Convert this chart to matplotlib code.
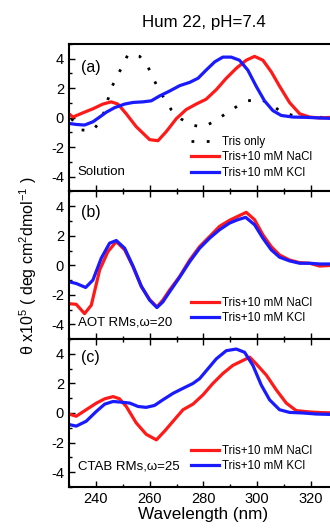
import numpy as np
import matplotlib.pyplot as plt
from matplotlib.ticker import MultipleLocator

plt.rcParams['font.family'] = ['Liberation Sans', 'DejaVu Sans']
plt.rcParams['axes.unicode_minus'] = False
plt.rcParams['mathtext.fontset'] = 'custom'
plt.rcParams['mathtext.rm'] = 'Liberation Sans'

# Panel (a): solution
wl_tris = [230.9, 234.6, 238.7, 241.4, 243.3, 245.7, 248.2, 250.0, 252.0, 256.3, 259.1,
           261.0, 263.1, 265.6, 268.0, 271.8, 275.7, 279.8, 284.2, 288.2, 292.5, 296.5,
           300.9, 305.2, 308.9, 313.3, 317.6, 321.9, 326.3]
cd_tris = [-0.07, -0.83, -0.9, -0.3, 0.48, 2.0, 2.9, 3.55, 4.3, 4.15, 3.55,
           2.8, 2.0, 1.25, 0.55, -0.1, -0.5, -0.64, -0.24, 0.26, 0.77, 1.14,
           1.25, 0.92, 0.37, 0.15, 0.09, 0.04, 0.0]

wl_a_na = [230, 231.5, 235.2, 238.9, 242.6, 245.7, 248.2, 251.3, 255, 260, 263.1, 266.2,
           269.9, 273.6, 277.3, 281, 284.8, 288.5, 292.2, 295.9, 299, 302.1, 305.2,
           308.3, 312, 315.8, 319.5, 323.2, 330]
cd_a_na = [0.26, 0.04, 0.33, 0.6, 0.92, 1.07, 0.92, 0.26, -0.61, -1.49, -1.56, -0.94,
           -0.07, 0.55, 0.92, 1.25, 1.9, 2.67, 3.34, 3.89, 4.15, 3.89, 3.11,
           2.13, 1.03, 0.26, 0.04, -0.02, 0.04]

wl_a_k = [230, 232.7, 235.8, 238.9, 241.4, 243.9, 247, 250.7, 253.8, 257.5, 260.6, 263.7,
          267.4, 271.2, 274.9, 278, 281, 284.2, 287.2, 290.3, 293.4, 296.5, 299.6,
          302.7, 305.8, 308.9, 313.3, 318.2, 323.2, 330]
cd_a_k = [-0.39, -0.46, -0.5, -0.28, 0.04, 0.37, 0.68, 0.92, 1.03, 1.07, 1.14, 1.47,
          1.8, 2.17, 2.39, 2.67, 3.22, 3.78, 4.1, 4.1, 3.89, 3.22, 2.13,
          1.14, 0.48, 0.15, 0.04, 0.02, -0.02, -0.07]

# Panel (b): AOT reverse micelles
wl_b_na = [230, 232.7, 235.8, 238.3, 241.4, 244.5, 247.6, 250.7, 253.8, 256.9, 260, 262.7,
           264.9, 267.4, 271.1, 274.9, 278.6, 282.3, 286, 289.7, 292.8, 295.9, 299,
           302.1, 305.2, 308.3, 312, 315.8, 319.5, 323.2, 330]
cd_b_na = [-2.6, -2.64, -3.27, -2.7, -0.32, 0.93, 1.61, 1.05, -0.09, -1.45, -2.32, -2.82,
           -2.36, -1.68, -0.77, 0.36, 1.27, 1.95, 2.64, 3.05, 3.32, 3.59, 3.09,
           2.07, 1.27, 0.7, 0.36, 0.18, 0.14, -0.05, 0.02]

wl_b_k = [230, 232.7, 236.2, 238.9, 242, 245.1, 247.6, 250.7, 253.8, 256.9, 260, 262.7,
          264.9, 267.4, 271.1, 274.9, 278.6, 282.3, 286, 289.7, 292.8, 295.7, 299,
          302.1, 305.2, 308.3, 312, 315.8, 319.5, 323.2, 330]
cd_b_k = [-1.11, -1.23, -1.5, -1.0, 0.48, 1.5, 1.68, 1.16, -0.05, -1.41, -2.36, -2.86,
          -2.48, -1.8, -0.82, 0.25, 1.16, 1.84, 2.41, 2.86, 3.09, 3.25, 2.75,
          1.84, 1.05, 0.55, 0.3, 0.14, 0.14, 0.09, 0.09]

# Panel (c): CTAB reverse micelles
wl_c_na = [230, 232.7, 236.4, 240.2, 243.3, 246.4, 248.8, 251.3, 255, 258.7, 262.5, 265.6,
           268.7, 272.4, 276.1, 279.8, 283.5, 287.2, 290.9, 294.7, 297.2, 299.6, 303.4,
           307.1, 310.8, 314.5, 319.5, 324.4, 330]
cd_c_na = [-0.07, -0.22, 0.22, 0.67, 0.96, 1.11, 0.96, 0.44, -0.67, -1.44, -1.82, -1.22,
           -0.56, 0.22, 0.6, 1.22, 2.0, 2.67, 3.22, 3.56, 3.78, 3.33, 2.56,
           1.56, 0.67, 0.16, 0.07, 0.02, 0.0]

wl_c_k = [230, 232.7, 236.4, 240.2, 243.3, 246.4, 249.5, 252.6, 255.7, 258.7, 261.8, 264.9,
          268.7, 272.4, 276.1, 278.6, 281.7, 284.8, 288.5, 292.2, 295.3, 298.4, 301.5,
          304.6, 308.3, 312, 317, 321.9, 330]
cd_c_k = [-0.78, -0.89, -0.56, 0.11, 0.6, 0.78, 0.73, 0.67, 0.44, 0.38, 0.51, 0.89,
          1.33, 1.67, 2.0, 2.33, 3.0, 3.67, 4.22, 4.33, 4.11, 3.22, 1.89,
          0.89, 0.22, 0.04, 0.0, -0.07, -0.11]

panel_tags = ['(a)', '(b)', '(c)']
panel_notes = ['Solution', 'AOT RMs,ω=20', 'CTAB RMs,ω=25']
tag_y = [0.84, 0.856, 0.875]
note_y = [0.135, 0.11, 0.135]
legend_y = [0.085, 0.1, 0.1]

fig = plt.figure(figsize=(3.3, 5.28), dpi=100)
left, right = 0.209, 1.024
bottom, top = 0.078, 0.917
h = (top - bottom) / 3
axes = [fig.add_axes([left, bottom + (2 - i) * h, right - left, h]) for i in range(3)]

axes[0].plot(wl_tris, cd_tris, ls=(0, (1, 4.5)), color='black', lw=2, label='Tris only')
axes[0].plot(wl_a_na, cd_a_na, color='#ff1a1a', lw=2.3, label='Tris+10 mM NaCl')
axes[0].plot(wl_a_k, cd_a_k, color='#1a1aff', lw=2.3, label='Tris+10 mM KCl')
axes[1].plot(wl_b_na, cd_b_na, color='#ff1a1a', lw=2.3, label='Tris+10 mM NaCl')
axes[1].plot(wl_b_k, cd_b_k, color='#1a1aff', lw=2.3, label='Tris+10 mM KCl')
axes[2].plot(wl_c_na, cd_c_na, color='#ff1a1a', lw=2.3, label='Tris+10 mM NaCl')
axes[2].plot(wl_c_k, cd_c_k, color='#1a1aff', lw=2.3, label='Tris+10 mM KCl')

for i, ax in enumerate(axes):
    ax.set_xlim(230, 330)
    ax.set_ylim(-5, 5)
    ax.set_yticks([-4, -2, 0, 2, 4])
    ax.xaxis.set_major_locator(MultipleLocator(20))
    ax.xaxis.set_minor_locator(MultipleLocator(10))
    ax.yaxis.set_minor_locator(MultipleLocator(1))
    ax.tick_params(which='both', direction='in', top=(i > 0), labelsize=10.5, width=1)
    ax.tick_params(which='major', length=4)
    ax.tick_params(which='minor', length=2.5)
    for s in ax.spines.values():
        s.set_linewidth(1.5)
    if i < 2:
        ax.tick_params(labelbottom=False)
    ax.text(0.045, tag_y[i], panel_tags[i], transform=ax.transAxes, fontsize=11.5, va='center')
    ax.text(0.033, note_y[i], panel_notes[i], transform=ax.transAxes, fontsize=9.5, va='center')
    ax.legend(loc='lower left', bbox_to_anchor=(0.455, legend_y[i]), frameon=False, fontsize=8.3,
              borderaxespad=0, borderpad=0, handlelength=2.4, handletextpad=0.25,
              labelspacing=0.3)

axes[2].set_xlabel('Wavelength (nm)', fontsize=12.3, labelpad=1)
fig.text(0.085, (top + bottom) / 2, r'θ x10$^5$ ( deg cm$^2$dmol$^{-1}$ )',
         rotation=90, ha='center', va='center', fontsize=11.5)
fig.text((left + right) / 2, 0.958, 'Hum 22, pH=7.4', ha='center', va='center', fontsize=12.2)

plt.savefig('out.png', dpi=100)
